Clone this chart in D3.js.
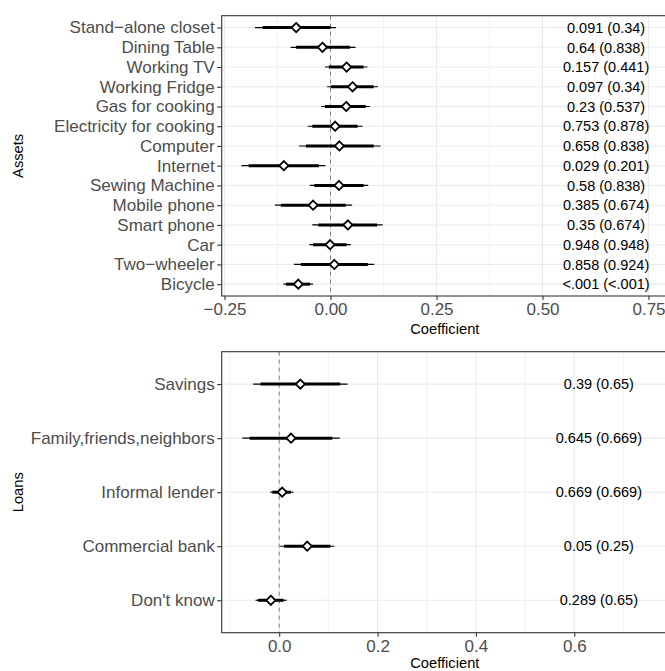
<!DOCTYPE html>
<html>
<head>
<meta charset="utf-8">
<script src="https://cdn.jsdelivr.net/npm/d3@7"></script>
<style>
body { margin:0; background:white; }
text { font-family: "Liberation Sans", Arial, sans-serif; }
</style>
</head>
<body>
<svg></svg>
<script>

// ---- assets panel data
var assetNames = ["Stand\u2212alone closet","Dining Table","Working TV","Working Fridge","Gas for cooking",
    "Electricity for cooking","Computer","Internet","Sewing Machine","Mobile phone","Smart phone","Car",
    "Two\u2212wheeler","Bicycle"]
var assetCoef = [-0.081,-0.019,0.038,0.052,0.037,0.011,0.021,-0.110,0.020,-0.041,0.041,-0.001,0.009,-0.076]
var assetLo95 = [-0.178,-0.094,-0.013,-0.008,-0.022,-0.054,-0.074,-0.210,-0.049,-0.131,-0.043,-0.050,-0.086,-0.111]
var assetHi95 = [0.013,0.059,0.087,0.112,0.093,0.076,0.118,-0.012,0.089,0.051,0.123,0.048,0.103,-0.041]
var assetLo90 = [-0.160,-0.081,-0.004,0.001,-0.013,-0.043,-0.058,-0.193,-0.038,-0.117,-0.029,-0.041,-0.070,-0.105]
var assetHi90 = [0.000,0.046,0.078,0.102,0.083,0.064,0.102,-0.027,0.078,0.036,0.110,0.038,0.088,-0.048]
var assetP = ["0.091 (0.34)","0.64 (0.838)","0.157 (0.441)","0.097 (0.34)","0.23 (0.537)","0.753 (0.878)",
    "0.658 (0.838)","0.029 (0.201)","0.58 (0.838)","0.385 (0.674)","0.35 (0.674)","0.948 (0.948)",
    "0.858 (0.924)","<.001 (<.001)"]
var assetTicks = [-0.25,0,0.25,0.5,0.75]
var assetMinor = [-0.125,0.125,0.375,0.625]

// ---- loans panel data
var loanNames = ["Savings","Family,friends,neighbors","Informal lender","Commercial bank","Don't know"]
var loanCoef = [0.043,0.024,0.006,0.057,-0.017]
var loanLo95 = [-0.053,-0.075,-0.018,0.002,-0.048]
var loanHi95 = [0.139,0.123,0.029,0.112,0.015]
var loanLo90 = [-0.038,-0.060,-0.014,0.010,-0.043]
var loanHi90 = [0.124,0.108,0.024,0.104,0.009]
var loanP = ["0.39 (0.65)","0.645 (0.669)","0.669 (0.669)","0.05 (0.25)","0.289 (0.65)"]
var loanTicks = [0,0.2,0.4,0.6]
var loanMinor = [-0.1,0.1,0.3,0.5,0.7]

var labelX = 0.65

var screen = {width:665,height:671}

var svg = d3.select("svg")
    .attr("width",screen.width)
    .attr("height",screen.height)

var makeRows = function(names,coef,lo95,hi95,lo90,hi90,p)
{
    return names.map(function(n,i)
        {
            return {name:n,coef:coef[i],lo95:lo95[i],hi95:hi95[i],lo90:lo90[i],hi90:hi90[i],p:p[i]}
        })
}

var drawPanel = function(opts)
{
    var rows = opts.rows
    var left = 221.7, right = 668
    var top = opts.top, bottom = opts.bottom

    var xScale = d3.scaleLinear()
                    .domain(opts.xDomain)
                    .range(opts.xRange)

    var step = (bottom-top)/(rows.length-1+1.2)
    var yScale = d3.scalePoint()
                    .domain(rows.map(function(r){return r.name}))
                    .range([top+0.6*step,bottom-0.6*step])

    var g = svg.append("g")

    // grid
    g.selectAll(".minor")
        .data(opts.minor)
        .enter()
        .append("line")
        .attr("x1",function(d){return xScale(d)})
        .attr("x2",function(d){return xScale(d)})
        .attr("y1",top).attr("y2",bottom)
        .attr("stroke","#ebebeb").attr("stroke-width",0.6)

    g.selectAll(".major")
        .data(opts.ticks)
        .enter()
        .append("line")
        .attr("x1",function(d){return xScale(d)})
        .attr("x2",function(d){return xScale(d)})
        .attr("y1",top).attr("y2",bottom)
        .attr("stroke","#ebebeb").attr("stroke-width",1.1)

    g.selectAll(".hgrid")
        .data(rows)
        .enter()
        .append("line")
        .attr("x1",left).attr("x2",right)
        .attr("y1",function(r){return yScale(r.name)})
        .attr("y2",function(r){return yScale(r.name)})
        .attr("stroke","#ebebeb").attr("stroke-width",1.1)

    // zero line
    g.append("line")
        .attr("x1",xScale(0)).attr("x2",xScale(0))
        .attr("y1",top).attr("y2",bottom)
        .attr("stroke","#7f7f7f").attr("stroke-width",1)
        .attr("stroke-dasharray","4,4")

    // intervals
    g.selectAll(".ci95")
        .data(rows)
        .enter()
        .append("line")
        .attr("x1",function(r){return xScale(r.lo95)})
        .attr("x2",function(r){return xScale(r.hi95)})
        .attr("y1",function(r){return yScale(r.name)})
        .attr("y2",function(r){return yScale(r.name)})
        .attr("stroke","black").attr("stroke-width",1.2)

    g.selectAll(".ci90")
        .data(rows)
        .enter()
        .append("line")
        .attr("x1",function(r){return xScale(r.lo90)})
        .attr("x2",function(r){return xScale(r.hi90)})
        .attr("y1",function(r){return yScale(r.name)})
        .attr("y2",function(r){return yScale(r.name)})
        .attr("stroke","black").attr("stroke-width",3)

    // points
    g.selectAll(".pt")
        .data(rows)
        .enter()
        .append("path")
        .attr("d","M0,-4.6L4.6,0L0,4.6L-4.6,0Z")
        .attr("transform",function(r){return "translate("+xScale(r.coef)+","+yScale(r.name)+")"})
        .attr("fill","white")
        .attr("stroke","black")
        .attr("stroke-width",1.8)

    // p-value text
    g.selectAll(".ptxt")
        .data(rows)
        .enter()
        .append("text")
        .attr("x",xScale(labelX))
        .attr("y",function(r){return yScale(r.name)})
        .attr("dy","0.36em")
        .attr("text-anchor","middle")
        .attr("font-size","14.5px")
        .attr("fill","black")
        .text(function(r){return r.p})

    // border
    g.append("rect")
        .attr("x",left).attr("y",top)
        .attr("width",right-left).attr("height",bottom-top)
        .attr("fill","none").attr("stroke","#333333").attr("stroke-width",1.1)

    // axes
    var fmt = d3.format(opts.fmt)
    var xAxis = d3.axisBottom(xScale)
                    .tickValues(opts.ticks)
                    .tickSize(4)
                    .tickPadding(3)
                    .tickFormat(function(d){return fmt(d).replace("-","\u2212")})
    var yAxis = d3.axisLeft(yScale)
                    .tickSize(4.5)
                    .tickPadding(2.5)

    var xa = g.append("g")
        .attr("transform","translate(0,"+bottom+")")
        .call(xAxis)
    var ya = g.append("g")
        .attr("transform","translate("+left+",0)")
        .call(yAxis)

    xa.select(".domain").remove()
    ya.select(".domain").remove()
    g.selectAll(".tick line").attr("stroke","#333333").attr("stroke-width",1.1)
    g.selectAll(".tick text")
        .attr("fill","#4d4d4d")
        .attr("font-size","17px")
        .attr("font-family","'Liberation Sans', Arial, sans-serif")

    // titles
    g.append("text")
        .attr("x",(left+right)/2)
        .attr("y",opts.xTitleY)
        .attr("text-anchor","middle")
        .attr("font-size","14.7px")
        .text("Coefficient")

    g.append("text")
        .attr("transform","translate(23,"+((top+bottom)/2)+") rotate(-90)")
        .attr("text-anchor","middle")
        .attr("font-size","14.7px")
        .text(opts.yTitle)
}

drawPanel({
    rows: makeRows(assetNames,assetCoef,assetLo95,assetHi95,assetLo90,assetHi90,assetP),
    top: 15.7, bottom: 296,
    xDomain: [-0.25,0.75], xRange: [224.5,648.5],
    ticks: assetTicks, minor: assetMinor, fmt: ".2f",
    xTitleY: 334, yTitle: "Assets"
})

drawPanel({
    rows: makeRows(loanNames,loanCoef,loanLo95,loanHi95,loanLo90,loanHi90,loanP),
    top: 351.7, bottom: 632.7,
    xDomain: [0,0.6], xRange: [279.2,574.3],
    ticks: loanTicks, minor: loanMinor, fmt: ".1f",
    xTitleY: 668, yTitle: "Loans"
})

</script>
</body>
</html>
